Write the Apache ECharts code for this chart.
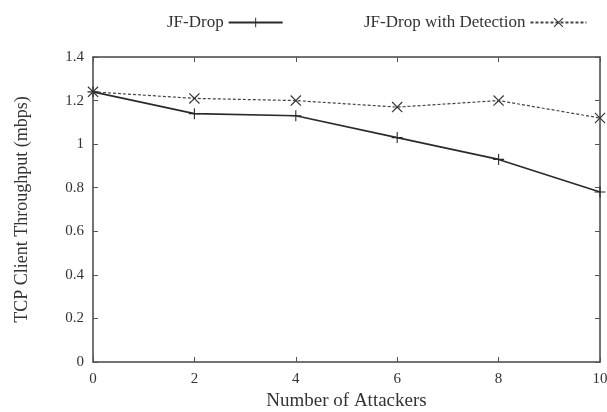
<!DOCTYPE html>
<html>
<head>
<meta charset="utf-8">
<script src="https://cdn.jsdelivr.net/npm/echarts@6/dist/echarts.min.js"></script>
<style>
    html, body { margin: 0; padding: 0; background: #fff; }
    #chart { width: 607px; height: 412px; }
</style>
</head>
<body>
<div id="chart"></div>
<script>
    // number of attackers
    const attackers = [0, 2, 4, 6, 8, 10];
    // throughput (mbps)
    const jfDrop = [1.24, 1.14, 1.13, 1.03, 0.93, 0.78];
    const jfDropDetection = [1.24, 1.21, 1.20, 1.17, 1.20, 1.12];

    const plusPath = 'path://M-1,-10L1,-10L1,-1L10,-1L10,1L1,1L1,10L-1,10L-1,1L-10,1L-10,-1L-1,-1Z';
    const crossPath = 'path://M-10,-8.5L-8.5,-10L0,-1.5L8.5,-10L10,-8.5L1.5,0L10,8.5L8.5,10L0,1.5L-8.5,10L-10,8.5L-1.5,0Z';

    const font = 'Liberation Serif';
    const ink = '#333';

    const toPairs = arr => attackers.map((x, i) => [x, arr[i]]);

    const chart = echarts.init(document.getElementById('chart'));

    // gnuplot style frame: ticks inside on all four sides
    const mirrorAxis = {
        axisLine: { show: true, onZero: false, lineStyle: { color: '#444', width: 1.5 } },
        axisTick: { show: true, inside: true, length: 5, lineStyle: { color: '#555' } },
        splitLine: { show: false }
    };

    const option = {
        animation: false,
        grid: { left: 93, right: 7, top: 57, bottom: 50, outerBoundsMode: 'none' },
        legend: [
            {
                data: ['JF-Drop'],
                left: 162, top: 9,
                align: 'right',
                itemWidth: 54, itemHeight: 12,
                textStyle: { fontFamily: font, fontSize: 17, color: ink }
            },
            {
                data: ['JF-Drop with Detection'],
                left: 359, top: 9,
                align: 'right',
                itemWidth: 56, itemHeight: 12,
                textStyle: { fontFamily: font, fontSize: 17, color: ink }
            }
        ],
        xAxis: [
            Object.assign({
                type: 'value', min: 0, max: 10, interval: 2,
                name: 'Number of Attackers', nameLocation: 'middle', nameGap: 30,
                nameTextStyle: { fontFamily: font, fontSize: 19, color: ink },
                axisLabel: { fontFamily: font, fontSize: 15, color: ink, margin: 10 }
            }, mirrorAxis),
            Object.assign({
                type: 'value', min: 0, max: 10, interval: 2, position: 'top',
                axisLabel: { show: false }
            }, mirrorAxis)
        ],
        yAxis: [
            Object.assign({
                type: 'value', min: 0, max: 1.4, interval: 0.2,
                name: 'TCP Client Throughput (mbps)', nameLocation: 'middle', nameGap: 62,
                nameTextStyle: { fontFamily: font, fontSize: 18, color: ink },
                axisLabel: { fontFamily: font, fontSize: 15, color: ink, margin: 9 }
            }, mirrorAxis),
            Object.assign({
                type: 'value', min: 0, max: 1.4, interval: 0.2, position: 'right',
                axisLabel: { show: false }
            }, mirrorAxis)
        ],
        series: [
            {
                name: 'JF-Drop',
                type: 'line',
                data: toPairs(jfDrop),
                symbol: plusPath,
                symbolSize: 11,
                lineStyle: { color: '#2a2a2a', width: 1.6 },
                itemStyle: { color: '#2a2a2a' }
            },
            {
                name: 'JF-Drop with Detection',
                type: 'line',
                data: toPairs(jfDropDetection),
                symbol: crossPath,
                symbolSize: 11,
                lineStyle: { color: '#444', width: 1.2, type: [3, 2] },
                itemStyle: { color: '#333' }
            }
        ]
    };

    chart.setOption(option);
</script>
</body>
</html>
